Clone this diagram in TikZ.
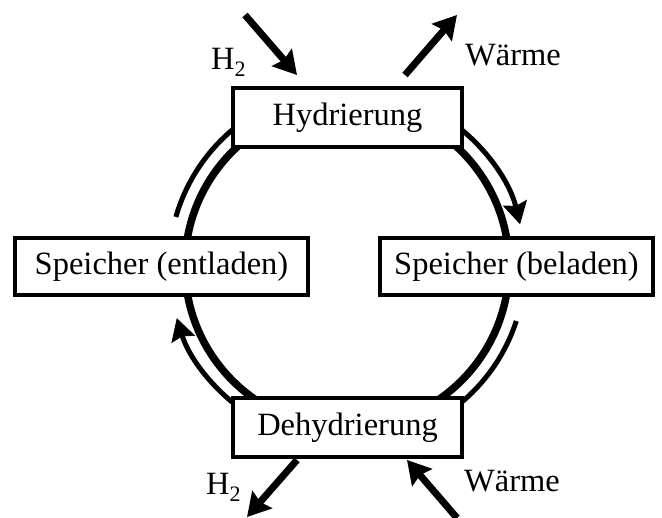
\documentclass[tikz,border=0pt]{standalone}
\usepackage{fontspec}
\setmainfont{Liberation Serif}
\usetikzlibrary{arrows.meta}
\newcommand{\Hzwei}{H\raisebox{-7pt}{\fontsize{22}{22}\selectfont 2}}
\begin{document}
\begin{tikzpicture}[x=1pt,y=1pt,
  box/.style={draw,line width=4.2pt,fill=white,inner sep=0pt,font=\fontsize{32.5}{36}\selectfont},
  ring/.style={line width=7.5pt},
  flow/.style={line width=5pt},
  flowtip/.style={line width=5pt,-{Stealth[length=22pt,width=24pt,inset=3pt]}},
  feed/.style={line width=7pt,-{Stealth[length=23pt,width=26pt,inset=3pt]}},
  lbl/.style={anchor=base west,inner sep=0pt,font=\fontsize{32.5}{36}\selectfont}]
\useasboundingbox (0,0) rectangle (662,518);
\coordinate (c) at (347,252);
% ring
\draw[ring] (c) circle[radius=162];
% outer flow arcs
\draw[flow] (c) ++(164:178) arc[start angle=164,end angle=122,radius=178];
\draw[flowtip] (c) ++(58:178) arc[start angle=58,end angle=13.5,radius=178];
\draw[flow] (c) ++(-18:178) arc[start angle=-18,end angle=-58,radius=178];
\draw[flowtip] (c) ++(-122:178) arc[start angle=-122,end angle=-163,radius=178];
% boxes
\node[box,minimum width=229pt,minimum height=59pt] (hyd) at (347.5,400.5) {Hydrierung};
\node[box,minimum width=229pt,minimum height=59pt] (dehyd) at (347.5,90.5) {Dehydrierung};
\node[box,minimum width=293pt,minimum height=57pt] (ent) at (161.5,251.5) {Speicher (entladen)};
\node[box,minimum width=273pt,minimum height=57pt] (bel) at (516.5,251.5) {Speicher (beladen)};
% feed arrows
\coordinate (h2in) at (245,503);
\coordinate (h2inend) at (297,443);
\coordinate (wout) at (405,443);
\coordinate (woutend) at (457,503);
\coordinate (h2out) at (297,58);
\coordinate (h2outend) at (247,1);
\coordinate (win) at (457,0);
\coordinate (winend) at (407,58);
\draw[feed] (h2in) -- (h2inend);
\draw[feed] (wout) -- (woutend);
\draw[feed] (h2out) -- (h2outend);
\draw[feed] (win) -- (winend);
% labels
\node[lbl] (lh2a) at (211,448) {\Hzwei};
\node[lbl] (lwa) at (465,452) {Wärme};
\node[lbl] (lh2b) at (206,23) {\Hzwei};
\node[lbl] (lwb) at (464,26) {Wärme};
\end{tikzpicture}
\end{document}
